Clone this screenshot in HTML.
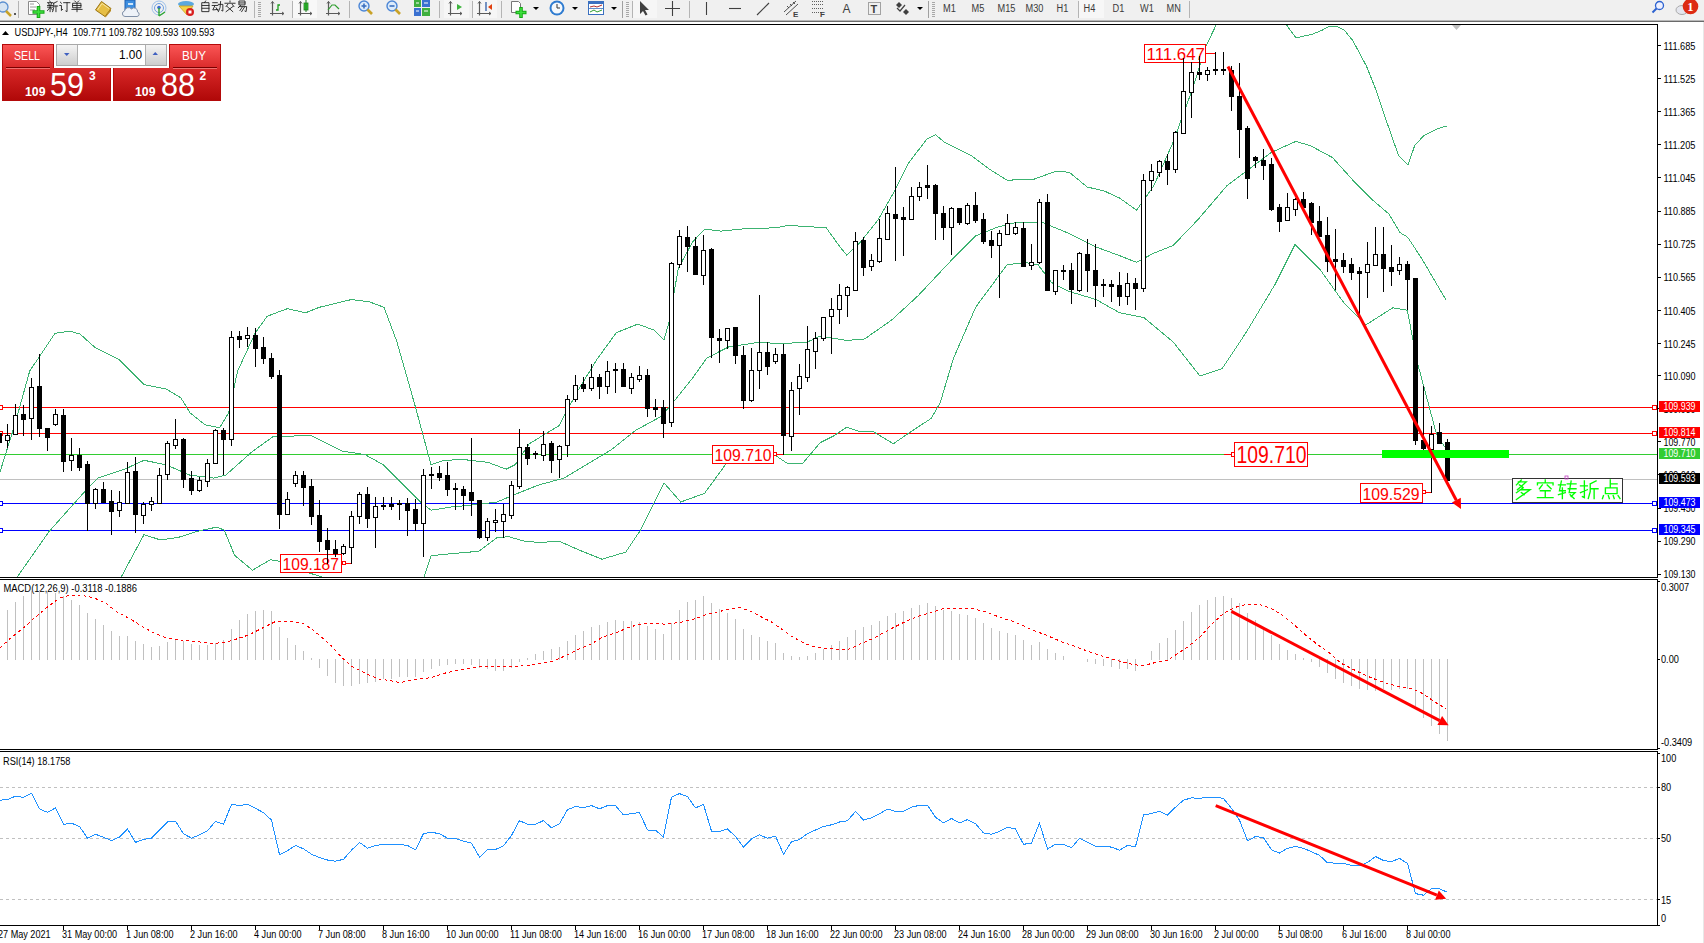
<!DOCTYPE html><html><head><meta charset="utf-8"><style>html,body{margin:0;padding:0;background:#fff;width:1704px;height:943px;overflow:hidden}</style></head><body><svg width="1704" height="943" viewBox="0 0 1704 943" style="display:block;font-family:'Liberation Sans', sans-serif"><rect x="0" y="0" width="1704" height="943" fill="#FFFFFF"/><rect x="0" y="0" width="1704" height="20" fill="#F0F0F0"/><rect x="0" y="20" width="1704" height="1" fill="#B8B8B8"/><rect x="0" y="21" width="1704" height="1" fill="#6A6A6A"/><rect x="1703" y="22" width="1" height="921" fill="#E8E8E8"/><circle cx="3" cy="7" r="5" fill="#D6E4F2" stroke="#5A8FD0" stroke-width="1.3"/><path d="M6 11L11 16" stroke="#C9A227" stroke-width="2.5"/><path d="M14 14h2M15 13v2" stroke="#000" stroke-width="0.8"/><rect x="18" y="1" width="1" height="17" fill="#B4B4B4"/><path d="M28.5 1.5h8l3 3v10h-11z" fill="#FFFFFF" stroke="#8A8A8A"/><path d="M30 4h4M30 7h6M30 10h5" stroke="#9A9A9A"/><path d="M32.5 12h12M38.5 6v12" stroke="#14A814" stroke-width="3.6"/><path d="M33.5 12h10M38.5 7v10" stroke="#3EE03E" stroke-width="1.6"/><path transform="translate(47.00,1) scale(0.5600)" d="M5 0L6 2M1 3H10M3 4L4 7M8 4L7 7M1 8H10M1 11H10M5.5 8V19M5 12L1 17M6 12L10 16M18 1L12 4M12 4V12L10 19M12 9H19M16 9V19" fill="none" stroke="#202020" stroke-width="1.61" stroke-linecap="square"/><path transform="translate(59.20,1) scale(0.5600)" d="M2 2L4 4M1 8H4V17L6 15M8 3H19M14 3V19L12 18" fill="none" stroke="#202020" stroke-width="1.61" stroke-linecap="square"/><path transform="translate(71.40,1) scale(0.5600)" d="M6 0L8 2M13 0L11 2M3 4H17V12H3ZM3 8H17M10 4V19M1 15H19" fill="none" stroke="#202020" stroke-width="1.61" stroke-linecap="square"/><path d="M95.5 10L101.5 1.5L111 8.5L105 16.5Z" fill="#E6BE45" stroke="#9A7413" stroke-width="1"/><path d="M97.5 10L102 3.5L109 8.5" fill="none" stroke="#F8E6A0" stroke-width="1"/><path d="M105 16.5L111 8.5V11L105.5 17.5Z" fill="#B88A20"/><rect x="125" y="0" width="10" height="10" fill="#3D8EE0" stroke="#1F5FAF"/><rect x="128" y="3" width="5" height="2" fill="#D0E6FA"/><path d="M125 16.5A2.8 2.8 0 0 1 124.5 11A4 4 0 0 1 131.5 9A3.5 3.5 0 0 1 137.5 12A2.3 2.3 0 0 1 137 16.5Z" fill="#EEF2F8" stroke="#8090A8" stroke-width="1"/><circle cx="159" cy="8" r="7" fill="none" stroke="#9EC1EA" stroke-width="1"/><circle cx="159" cy="8" r="4.5" fill="none" stroke="#6F9FE0" stroke-width="1"/><circle cx="159" cy="7.5" r="1.8" fill="#3C6FD0"/><path d="M159 8V16M159 16L165 12" stroke="#2EA82E" stroke-width="1.4" fill="none"/><ellipse cx="186" cy="4" rx="8" ry="3" fill="#5AA8E0"/><path d="M179 6H193L187 15Z" fill="#F3D34A" stroke="#C8A020" stroke-width="0.8"/><circle cx="190" cy="12" r="4" fill="#D81E1E"/><rect x="188.5" y="10.5" width="3" height="3" fill="#FFF"/><path transform="translate(200.00,1) scale(0.5600)" d="M10 0L8 3M4 3H16V19H4ZM4 8H16M4 13H16" fill="none" stroke="#202020" stroke-width="1.61" stroke-linecap="square"/><path transform="translate(212.20,1) scale(0.5600)" d="M1 3H9M0 8H10M5 8L1 16L10 15M7 12L10 17M11 6H19V18L17 17M15 1L14 12L11 19" fill="none" stroke="#202020" stroke-width="1.61" stroke-linecap="square"/><path transform="translate(224.40,1) scale(0.5600)" d="M10 0V2M1 4H19M6 6L3 10M14 6L17 10M5 10L15 19M15 10L3 19" fill="none" stroke="#202020" stroke-width="1.61" stroke-linecap="square"/><path transform="translate(236.60,1) scale(0.5600)" d="M5 0H15V7H5ZM5 3.5H15M7 8L3 12M5 10H18L17 19L15 18M10 11L6 17M14 11L9 19" fill="none" stroke="#202020" stroke-width="1.61" stroke-linecap="square"/><rect x="254" y="1" width="1" height="17" fill="#B4B4B4"/><rect x="258" y="2" width="3" height="1" fill="#A8A8A8"/><rect x="258" y="4" width="3" height="1" fill="#A8A8A8"/><rect x="258" y="6" width="3" height="1" fill="#A8A8A8"/><rect x="258" y="8" width="3" height="1" fill="#A8A8A8"/><rect x="258" y="10" width="3" height="1" fill="#A8A8A8"/><rect x="258" y="12" width="3" height="1" fill="#A8A8A8"/><rect x="258" y="14" width="3" height="1" fill="#A8A8A8"/><rect x="258" y="16" width="3" height="1" fill="#A8A8A8"/><path d="M272.5 1.5V15.5M270 13.5H284" stroke="#5A5A5A" stroke-width="1.2" fill="none"/><path d="M271 3.5L272.5 1.5L274 3.5M282 12L284 13.5L282 15" stroke="#5A5A5A" stroke-width="1" fill="none"/><path d="M276 10h2V5h2" stroke="#1E9E1E" stroke-width="1.3" fill="none"/><rect x="292" y="1" width="1" height="17" fill="#B4B4B4"/><rect x="293" y="0" width="24" height="18" fill="#F8F8F8"/><path d="M300.5 1.5V15.5M298 13.5H312" stroke="#5A5A5A" stroke-width="1.2" fill="none"/><path d="M299 3.5L300.5 1.5L302 3.5M310 12L312 13.5L310 15" stroke="#5A5A5A" stroke-width="1" fill="none"/><rect x="304" y="3" width="4" height="7" fill="#33CC33" stroke="#1E7E1E" stroke-width="0.8"/><path d="M306 0V12" stroke="#1E7E1E"/><path d="M328.5 1.5V15.5M326 13.5H340" stroke="#5A5A5A" stroke-width="1.2" fill="none"/><path d="M327 3.5L328.5 1.5L330 3.5M338 12L340 13.5L338 15" stroke="#5A5A5A" stroke-width="1" fill="none"/><path d="M328 10L332 5L335 5L339 9" stroke="#2E9E2E" stroke-width="1.2" fill="none"/><rect x="349" y="1" width="1" height="17" fill="#B4B4B4"/><circle cx="364" cy="6" r="5" fill="#DCEBFA" stroke="#4C86D6" stroke-width="1.4"/><path d="M367.5 9.5L372 14" stroke="#C9A227" stroke-width="2.6"/><path d="M361.5 6h5" stroke="#3A70C0" stroke-width="1.6"/><path d="M364 3.5v5" stroke="#3A70C0" stroke-width="1.6"/><circle cx="392" cy="6" r="5" fill="#DCEBFA" stroke="#4C86D6" stroke-width="1.4"/><path d="M395.5 9.5L400 14" stroke="#C9A227" stroke-width="2.6"/><path d="M389.5 6h5" stroke="#3A70C0" stroke-width="1.6"/><rect x="414" y="0" width="7" height="7" fill="#3FAF3F"/><rect x="422" y="0" width="8" height="7" fill="#3A70D0"/><rect x="414" y="8" width="7" height="8" fill="#3A70D0"/><rect x="422" y="8" width="8" height="8" fill="#3FAF3F"/><path d="M416 3h3M424 3h4M416 11h3M424 11h4" stroke="#FFF" stroke-width="1"/><rect x="439" y="1" width="1" height="17" fill="#B4B4B4"/><rect x="444" y="0" width="25" height="18" fill="#F6F6F6"/><path d="M450.5 1.5V15.5M448 13.5H462" stroke="#5A5A5A" stroke-width="1.2" fill="none"/><path d="M449 3.5L450.5 1.5L452 3.5M460 12L462 13.5L460 15" stroke="#5A5A5A" stroke-width="1" fill="none"/><path d="M457 4L462 7L457 10Z" fill="#3CB43C"/><rect x="472" y="1" width="1" height="17" fill="#B4B4B4"/><rect x="473" y="0" width="24" height="18" fill="#F6F6F6"/><path d="M479.5 1.5V15.5M477 13.5H491" stroke="#5A5A5A" stroke-width="1.2" fill="none"/><path d="M478 3.5L479.5 1.5L481 3.5M489 12L491 13.5L489 15" stroke="#5A5A5A" stroke-width="1" fill="none"/><path d="M486 2V11" stroke="#2050A0" stroke-width="1.2"/><path d="M488 7L492 4V10Z" fill="#E04010"/><rect x="501" y="1" width="1" height="17" fill="#B4B4B4"/><path d="M511.5 1.5h7l2 2v9h-9z" fill="#FFF" stroke="#777"/><path d="M515.5 12.5h11M521 7v11" stroke="#14A814" stroke-width="3.6"/><path d="M516.5 12.5h9M521 8v9" stroke="#3EE03E" stroke-width="1.6"/><path d="M533 7h6l-3 3z" fill="#000"/><circle cx="557" cy="8" r="7.5" fill="#2E7BD0"/><circle cx="557" cy="8" r="5.5" fill="#F4F8FC"/><path d="M557 4V8H560" stroke="#333" stroke-width="1" fill="none"/><path d="M572 7h6l-3 3z" fill="#000"/><rect x="588.5" y="1.5" width="15" height="13" fill="#FFF" stroke="#3A70C0"/><rect x="589" y="2" width="14" height="2" fill="#3A70C0"/><path d="M590 7L594 6L597 7L602 5" stroke="#B03030" fill="none"/><path d="M590 12L594 10L597 12L602 10" stroke="#2E9E2E" fill="none"/><path d="M589 8.5H603" stroke="#3A70C0" stroke-width="0.8"/><path d="M611 7h6l-3 3z" fill="#000"/><rect x="622" y="1" width="1" height="17" fill="#A0A0A0"/><rect x="626" y="2" width="3" height="1" fill="#A8A8A8"/><rect x="626" y="4" width="3" height="1" fill="#A8A8A8"/><rect x="626" y="6" width="3" height="1" fill="#A8A8A8"/><rect x="626" y="8" width="3" height="1" fill="#A8A8A8"/><rect x="626" y="10" width="3" height="1" fill="#A8A8A8"/><rect x="626" y="12" width="3" height="1" fill="#A8A8A8"/><rect x="626" y="14" width="3" height="1" fill="#A8A8A8"/><rect x="626" y="16" width="3" height="1" fill="#A8A8A8"/><rect x="632" y="1" width="1" height="17" fill="#B4B4B4"/><rect x="633" y="0" width="24" height="18" fill="#F6F6F6"/><path d="M640 1V14L643 11L645.5 15.5L647.5 14.5L645 10H649Z" fill="#404040"/><path d="M665 8.5H680M672.5 1V16" stroke="#404040" stroke-width="1.1"/><rect x="689" y="1" width="1" height="17" fill="#B4B4B4"/><path d="M706.5 2V15" stroke="#404040" stroke-width="1.1"/><path d="M729 8.5H741" stroke="#404040" stroke-width="1.1"/><path d="M757 15L769 3" stroke="#404040" stroke-width="1.1"/><path d="M784 12L796 1M786 15L798 4M787 6L789 8M790 4L792 6M793 2L795 4" stroke="#404040" stroke-width="0.9"/><text x="793" y="17" font-size="8" font-weight="bold" fill="#404040">E</text><path d="M812 1.5H823M812 4.5H823M812 8.5H823M812 12.5H822" stroke="#606060" stroke-dasharray="1,1"/><text x="820" y="17" font-size="8" font-weight="bold" fill="#404040">F</text><text x="842.5" y="12.5" font-size="12" fill="#404040">A</text><rect x="868.5" y="2.5" width="12" height="12" fill="none" stroke="#555" stroke-dasharray="1,1"/><text x="870.5" y="12.5" font-size="11" font-weight="bold" fill="#404040">T</text><path d="M899 2L902 5L899 8L896 5Z" fill="#404040"/><path d="M906 9L909 12L906 15L903 12Z" fill="#404040"/><path d="M897 8L900 11L905 5" stroke="#404040" fill="none" stroke-width="1.2"/><path d="M917 7h6l-3 3z" fill="#000"/><rect x="928" y="1" width="1" height="17" fill="#A0A0A0"/><rect x="932" y="2" width="3" height="1" fill="#A8A8A8"/><rect x="932" y="4" width="3" height="1" fill="#A8A8A8"/><rect x="932" y="6" width="3" height="1" fill="#A8A8A8"/><rect x="932" y="8" width="3" height="1" fill="#A8A8A8"/><rect x="932" y="10" width="3" height="1" fill="#A8A8A8"/><rect x="932" y="12" width="3" height="1" fill="#A8A8A8"/><rect x="932" y="14" width="3" height="1" fill="#A8A8A8"/><rect x="932" y="16" width="3" height="1" fill="#A8A8A8"/><text x="943" y="12" font-size="10" fill="#3A3A3A" textLength="12.8" lengthAdjust="spacingAndGlyphs" xml:space="preserve" >M1</text><text x="971.5" y="12" font-size="10" fill="#3A3A3A" textLength="12.8" lengthAdjust="spacingAndGlyphs" xml:space="preserve" >M5</text><text x="997.5" y="12" font-size="10" fill="#3A3A3A" textLength="17.9" lengthAdjust="spacingAndGlyphs" xml:space="preserve" >M15</text><text x="1025.5" y="12" font-size="10" fill="#3A3A3A" textLength="17.9" lengthAdjust="spacingAndGlyphs" xml:space="preserve" >M30</text><text x="1056.5" y="12" font-size="10" fill="#3A3A3A" textLength="11.8" lengthAdjust="spacingAndGlyphs" xml:space="preserve" >H1</text><rect x="1079" y="0" width="25" height="18" fill="#F7F7F7"/><text x="1083.5" y="12" font-size="10" fill="#3A3A3A" textLength="11.8" lengthAdjust="spacingAndGlyphs" xml:space="preserve" >H4</text><text x="1112.5" y="12" font-size="10" fill="#3A3A3A" textLength="11.8" lengthAdjust="spacingAndGlyphs" xml:space="preserve" >D1</text><text x="1140" y="12" font-size="10" fill="#3A3A3A" textLength="13.8" lengthAdjust="spacingAndGlyphs" xml:space="preserve" >W1</text><text x="1166.5" y="12" font-size="10" fill="#3A3A3A" textLength="14.3" lengthAdjust="spacingAndGlyphs" xml:space="preserve" >MN</text><rect x="1078" y="1" width="1" height="17" fill="#B4B4B4"/><rect x="1189" y="1" width="1" height="17" fill="#B4B4B4"/><circle cx="1659.5" cy="5.5" r="4" fill="#EEF0FF" stroke="#2C62D0" stroke-width="1.3"/><path d="M1656.5 8.5L1652.5 12.5" stroke="#2C62D0" stroke-width="2"/><ellipse cx="1682" cy="10" rx="6" ry="4.5" fill="#E4E6EE" stroke="#AAAAAA"/><circle cx="1690.5" cy="6.5" r="7.8" fill="#DD2A12"/><text x="1687.2" y="11" font-size="12.5" font-weight="bold" font-family="Liberation Serif" fill="#FFF">1</text><g shape-rendering="crispEdges"><rect x="0" y="24" width="1658" height="1" fill="#000"/><rect x="0" y="577" width="1658" height="1" fill="#000"/><rect x="0" y="579" width="1658" height="1" fill="#000"/><rect x="0" y="749" width="1658" height="1" fill="#000"/><rect x="0" y="751" width="1658" height="1" fill="#000"/><rect x="0" y="925" width="1658" height="1" fill="#000"/><rect x="1657" y="24" width="1" height="554" fill="#000"/><rect x="1657" y="579" width="1" height="171" fill="#000"/><rect x="1657" y="751" width="1" height="175" fill="#000"/></g><defs><clipPath id="cm"><rect x="0" y="25" width="1657" height="552"/></clipPath><clipPath id="cmacd"><rect x="0" y="580" width="1657" height="169"/></clipPath><clipPath id="crsi"><rect x="0" y="752" width="1657" height="173"/></clipPath></defs><g clip-path="url(#cm)"><g shape-rendering="crispEdges"><rect x="0" y="407" width="1657" height="1" fill="#FF0000"/><rect x="0" y="433" width="1657" height="1" fill="#FF0000"/><rect x="0" y="454" width="1657" height="1" fill="#32CD32"/><rect x="0" y="479" width="1657" height="1" fill="#C0C0C0"/><rect x="0" y="503" width="1657" height="1" fill="#0000FF"/><rect x="0" y="530" width="1657" height="1" fill="#0000FF"/><rect x="-1.5" y="405.5" width="4" height="4" fill="#FFF" stroke="#FF0000"/><rect x="1652.5" y="405.5" width="4" height="4" fill="#FFF" stroke="#FF0000"/><rect x="-1.5" y="431.5" width="4" height="4" fill="#FFF" stroke="#FF0000"/><rect x="1652.5" y="431.5" width="4" height="4" fill="#FFF" stroke="#FF0000"/><rect x="-1.5" y="501.5" width="4" height="4" fill="#FFF" stroke="#0000FF"/><rect x="1652.5" y="501.5" width="4" height="4" fill="#FFF" stroke="#0000FF"/><rect x="-1.5" y="528.5" width="4" height="4" fill="#FFF" stroke="#0000FF"/><rect x="1652.5" y="528.5" width="4" height="4" fill="#FFF" stroke="#0000FF"/></g><polyline points="0.0,472.0 14.8,424.7 29.7,371.0 41.6,353.4 55.0,333.3 69.8,331.2 80.0,334.0 95.0,347.5 118.8,359.4 130.6,371.3 144.0,384.6 166.3,389.0 181.0,398.0 190.0,412.8 204.9,424.7 219.7,427.7 228.6,412.8 237.5,371.3 255.3,332.7 267.2,316.3 280.0,311.3 287.4,308.7 305.6,312.8 319.3,307.3 351.2,299.6 369.4,301.8 384.0,307.3 396.8,341.5 415.0,405.4 431.0,464.6 442.4,461.0 460.6,459.2 488.0,462.4 506.2,469.2 515.4,464.6 529.0,444.0 547.3,432.7 559.0,425.7 578.2,390.0 597.2,359.0 616.3,332.7 637.8,324.1 654.5,330.3 664.0,339.9 668.8,323.2 678.3,268.3 692.6,242.0 704.5,229.2 721.2,231.1 745.1,228.7 776.1,227.8 788.0,225.4 826.2,227.8 840.0,246.9 846.7,255.0 860.0,242.5 877.9,220.2 895.7,189.0 909.0,162.4 926.8,139.2 935.7,134.8 944.6,142.3 971.3,155.7 989.1,169.0 1007.0,180.2 1033.6,179.3 1055.9,171.3 1069.3,172.2 1087.0,186.9 1104.9,191.3 1119.5,198.0 1136.6,210.2 1153.7,185.9 1173.2,142.0 1192.7,88.3 1205.9,46.3 1216.1,25.1 1230.0,-5.0 1270.0,-5.0 1286.6,25.1 1295.9,37.8 1312.0,34.4 1322.2,30.2 1329.0,26.4 1335.8,26.0 1344.3,30.2 1352.7,40.4 1366.3,65.8 1376.5,91.3 1386.7,121.8 1398.6,155.8 1407.9,165.1 1414.7,145.6 1424.0,135.4 1437.6,128.6 1447.0,126.0" fill="none" stroke="#3CB371" stroke-width="1" shape-rendering="crispEdges"/><polyline points="10.0,590.0 17.8,576.1 49.0,531.6 86.1,490.0 98.0,478.1 124.7,469.2 144.0,460.3 166.3,464.8 190.0,475.2 213.8,478.1 225.7,475.2 252.4,451.4 273.2,436.6 287.4,436.4 310.2,435.0 342.0,451.0 364.9,454.6 383.0,464.6 401.4,482.9 421.9,503.4 431.0,510.2 451.5,507.0 474.3,504.8 497.0,502.0 515.4,494.3 538.0,485.2 563.8,478.2 587.7,463.9 611.5,449.6 635.4,430.5 661.6,416.2 673.5,401.9 692.6,378.0 706.9,358.0 728.4,347.0 759.4,342.2 778.5,343.7 807.1,342.2 820.0,336.0 846.7,340.4 864.5,339.0 891.2,320.4 917.9,295.9 953.5,258.0 975.8,235.8 998.0,226.9 1015.8,222.5 1042.5,222.5 1069.3,233.6 1096.0,247.0 1120.0,255.8 1136.6,262.4 1153.7,253.2 1173.2,245.4 1197.6,220.0 1226.8,185.9 1250.9,167.7 1271.3,152.4 1295.9,141.4 1310.3,145.6 1332.4,157.5 1352.7,180.0 1373.2,200.5 1389.0,214.0 1400.2,232.7 1407.7,237.2 1422.0,259.0 1446.3,300.5" fill="none" stroke="#3CB371" stroke-width="1" shape-rendering="crispEdges"/><polyline points="115.0,590.0 121.7,576.1 144.0,534.6 160.3,539.9 178.1,537.5 196.0,531.6 216.7,527.1 224.2,530.1 234.6,555.3 252.4,570.2 270.2,559.8 280.0,561.3 300.0,570.0 322.0,577.0 335.0,590.0" fill="none" stroke="#3CB371" stroke-width="1" shape-rendering="crispEdges"/><polyline points="418.0,590.0 424.2,576.4 431.0,555.8 451.5,553.6 478.9,551.3 497.0,537.6 508.5,536.7 524.5,541.2 540.0,542.5 559.0,541.1 578.2,549.7 602.0,559.2 625.8,552.1 640.2,530.6 664.0,482.9 680.7,502.0 704.5,493.4 726.0,463.9 773.7,454.3 788.0,463.9 802.3,463.9 820.0,442.8 833.4,436.1 846.7,427.2 860.0,431.7 873.4,431.7 893.4,443.7 909.0,433.0 931.3,418.3 940.2,402.7 953.5,358.2 975.8,307.0 1007.0,264.8 1024.7,262.5 1038.1,264.8 1051.4,282.5 1069.3,291.5 1096.0,299.5 1119.5,312.7 1143.9,317.6 1173.2,342.0 1200.0,376.1 1222.0,368.8 1246.3,332.2 1275.6,283.4 1295.1,244.4 1319.5,268.8 1343.9,302.9 1365.9,324.9 1392.7,307.8 1407.3,310.2 1417.1,361.5 1436.6,434.6 1446.3,449.3" fill="none" stroke="#3CB371" stroke-width="1" shape-rendering="crispEdges"/><rect x="1144.5" y="44.5" width="61" height="18" fill="#FFF" stroke="#FF0000"/><text x="1146.5" y="60.1" font-size="17" fill="#FF0000" textLength="58.5" lengthAdjust="spacingAndGlyphs">111.647</text><path d="M1206 53.5H1215" fill="none" stroke="#FF0000" stroke-width="1" shape-rendering="crispEdges"/><rect x="712.5" y="445.5" width="61" height="18" fill="#FFF" stroke="#FF0000"/><text x="714.5" y="461.1" font-size="17" fill="#FF0000" textLength="57" lengthAdjust="spacingAndGlyphs">109.710</text><path d="M776 454.5H783" fill="none" stroke="#FF0000" stroke-width="1" shape-rendering="crispEdges"/><rect x="773.5" y="452.5" width="3" height="3" fill="#FFF" stroke="#FF0000"/><rect x="280.5" y="554.5" width="61" height="18" fill="#FFF" stroke="#FF0000"/><text x="282.5" y="570.1" font-size="17" fill="#FF0000" textLength="56.5" lengthAdjust="spacingAndGlyphs">109.187</text><path d="M343 563.5H351" fill="none" stroke="#FF0000" stroke-width="1" shape-rendering="crispEdges"/><rect x="342.5" y="561.5" width="3" height="3" fill="#FFF" stroke="#FF0000"/><rect x="1360.5" y="483.5" width="62" height="19" fill="#FFF" stroke="#FF0000"/><text x="1362.5" y="499.6" font-size="17" fill="#FF0000" textLength="57" lengthAdjust="spacingAndGlyphs">109.529</text><path d="M1423 492.5H1431" fill="none" stroke="#FF0000" stroke-width="1" shape-rendering="crispEdges"/><rect x="1422.5" y="490.5" width="3" height="3" fill="#FFF" stroke="#FF0000"/><rect x="1234.5" y="442.5" width="73" height="24" fill="#FFF" stroke="#FF0000"/><text x="1236.5" y="463.3" font-size="23.5" fill="#FF0000" textLength="70" lengthAdjust="spacingAndGlyphs">109.710</text><path d="M1224 454.5H1231" fill="none" stroke="#FF0000" stroke-width="1" shape-rendering="crispEdges"/><rect x="1231.5" y="452.5" width="3" height="4" fill="#FFF" stroke="#FF0000"/><g shape-rendering="crispEdges"><rect x="-1" y="430" width="1" height="16" fill="#000"/><rect x="-3" y="433" width="5" height="10" fill="#000"/><rect x="7" y="424" width="1" height="24" fill="#000"/><rect x="5" y="435" width="5" height="6" fill="#000"/><rect x="6" y="436" width="3" height="4" fill="#FFF"/><rect x="15" y="404" width="1" height="31" fill="#000"/><rect x="13" y="415" width="5" height="20" fill="#000"/><rect x="14" y="416" width="3" height="18" fill="#FFF"/><rect x="23" y="405" width="1" height="31" fill="#000"/><rect x="21" y="414" width="5" height="6" fill="#000"/><rect x="31" y="378" width="1" height="62" fill="#000"/><rect x="29" y="387" width="5" height="32" fill="#000"/><rect x="30" y="388" width="3" height="30" fill="#FFF"/><rect x="39" y="354" width="1" height="83" fill="#000"/><rect x="37" y="386" width="5" height="43" fill="#000"/><rect x="47" y="428" width="1" height="23" fill="#000"/><rect x="45" y="428" width="5" height="10" fill="#000"/><rect x="55" y="409" width="1" height="17" fill="#000"/><rect x="53" y="414" width="5" height="11" fill="#000"/><rect x="54" y="415" width="3" height="9" fill="#FFF"/><rect x="63" y="409" width="1" height="63" fill="#000"/><rect x="61" y="415" width="5" height="47" fill="#000"/><rect x="71" y="438" width="1" height="33" fill="#000"/><rect x="69" y="455" width="5" height="6" fill="#000"/><rect x="70" y="456" width="3" height="4" fill="#FFF"/><rect x="79" y="448" width="1" height="23" fill="#000"/><rect x="77" y="455" width="5" height="13" fill="#000"/><rect x="87" y="461" width="1" height="70" fill="#000"/><rect x="85" y="464" width="5" height="40" fill="#000"/><rect x="95" y="488" width="1" height="21" fill="#000"/><rect x="93" y="489" width="5" height="15" fill="#000"/><rect x="94" y="490" width="3" height="13" fill="#FFF"/><rect x="103" y="482" width="1" height="21" fill="#000"/><rect x="101" y="489" width="5" height="14" fill="#000"/><rect x="111" y="490" width="1" height="45" fill="#000"/><rect x="109" y="501" width="5" height="11" fill="#000"/><rect x="119" y="491" width="1" height="26" fill="#000"/><rect x="117" y="502" width="5" height="9" fill="#000"/><rect x="118" y="503" width="3" height="7" fill="#FFF"/><rect x="127" y="462" width="1" height="42" fill="#000"/><rect x="125" y="472" width="5" height="32" fill="#000"/><rect x="126" y="473" width="3" height="30" fill="#FFF"/><rect x="135" y="457" width="1" height="76" fill="#000"/><rect x="133" y="471" width="5" height="44" fill="#000"/><rect x="143" y="502" width="1" height="22" fill="#000"/><rect x="141" y="504" width="5" height="12" fill="#000"/><rect x="142" y="505" width="3" height="10" fill="#FFF"/><rect x="151" y="497" width="1" height="14" fill="#000"/><rect x="149" y="501" width="5" height="4" fill="#000"/><rect x="150" y="502" width="3" height="2" fill="#FFF"/><rect x="159" y="468" width="1" height="36" fill="#000"/><rect x="157" y="475" width="5" height="29" fill="#000"/><rect x="158" y="476" width="3" height="27" fill="#FFF"/><rect x="167" y="441" width="1" height="39" fill="#000"/><rect x="165" y="443" width="5" height="32" fill="#000"/><rect x="166" y="444" width="3" height="30" fill="#FFF"/><rect x="175" y="419" width="1" height="30" fill="#000"/><rect x="173" y="439" width="5" height="7" fill="#000"/><rect x="174" y="440" width="3" height="5" fill="#FFF"/><rect x="183" y="438" width="1" height="50" fill="#000"/><rect x="181" y="439" width="5" height="41" fill="#000"/><rect x="191" y="471" width="1" height="24" fill="#000"/><rect x="189" y="478" width="5" height="13" fill="#000"/><rect x="199" y="477" width="1" height="15" fill="#000"/><rect x="197" y="480" width="5" height="11" fill="#000"/><rect x="198" y="481" width="3" height="9" fill="#FFF"/><rect x="207" y="459" width="1" height="28" fill="#000"/><rect x="205" y="463" width="5" height="19" fill="#000"/><rect x="206" y="464" width="3" height="17" fill="#FFF"/><rect x="215" y="429" width="1" height="35" fill="#000"/><rect x="213" y="430" width="5" height="34" fill="#000"/><rect x="214" y="431" width="3" height="32" fill="#FFF"/><rect x="223" y="428" width="1" height="47" fill="#000"/><rect x="221" y="430" width="5" height="10" fill="#000"/><rect x="231" y="331" width="1" height="115" fill="#000"/><rect x="229" y="337" width="5" height="103" fill="#000"/><rect x="230" y="338" width="3" height="101" fill="#FFF"/><rect x="239" y="331" width="1" height="17" fill="#000"/><rect x="237" y="336" width="5" height="4" fill="#000"/><rect x="247" y="327" width="1" height="20" fill="#000"/><rect x="245" y="335" width="5" height="4" fill="#000"/><rect x="246" y="336" width="3" height="2" fill="#FFF"/><rect x="255" y="328" width="1" height="39" fill="#000"/><rect x="253" y="335" width="5" height="14" fill="#000"/><rect x="263" y="337" width="1" height="27" fill="#000"/><rect x="261" y="347" width="5" height="12" fill="#000"/><rect x="271" y="353" width="1" height="26" fill="#000"/><rect x="269" y="358" width="5" height="19" fill="#000"/><rect x="279" y="370" width="1" height="159" fill="#000"/><rect x="277" y="375" width="5" height="140" fill="#000"/><rect x="287" y="492" width="1" height="23" fill="#000"/><rect x="285" y="499" width="5" height="16" fill="#000"/><rect x="286" y="500" width="3" height="14" fill="#FFF"/><rect x="295" y="471" width="1" height="16" fill="#000"/><rect x="293" y="475" width="5" height="9" fill="#000"/><rect x="294" y="476" width="3" height="7" fill="#FFF"/><rect x="303" y="471" width="1" height="35" fill="#000"/><rect x="301" y="475" width="5" height="13" fill="#000"/><rect x="311" y="479" width="1" height="46" fill="#000"/><rect x="309" y="486" width="5" height="31" fill="#000"/><rect x="319" y="500" width="1" height="52" fill="#000"/><rect x="317" y="515" width="5" height="27" fill="#000"/><rect x="327" y="528" width="1" height="36" fill="#000"/><rect x="325" y="540" width="5" height="10" fill="#000"/><rect x="335" y="540" width="1" height="17" fill="#000"/><rect x="333" y="549" width="5" height="5" fill="#000"/><rect x="343" y="544" width="1" height="11" fill="#000"/><rect x="341" y="546" width="5" height="8" fill="#000"/><rect x="342" y="547" width="3" height="6" fill="#FFF"/><rect x="351" y="511" width="1" height="53" fill="#000"/><rect x="349" y="516" width="5" height="32" fill="#000"/><rect x="350" y="517" width="3" height="30" fill="#FFF"/><rect x="359" y="492" width="1" height="32" fill="#000"/><rect x="357" y="494" width="5" height="23" fill="#000"/><rect x="358" y="495" width="3" height="21" fill="#FFF"/><rect x="367" y="487" width="1" height="41" fill="#000"/><rect x="365" y="494" width="5" height="25" fill="#000"/><rect x="375" y="497" width="1" height="51" fill="#000"/><rect x="373" y="506" width="5" height="12" fill="#000"/><rect x="374" y="507" width="3" height="10" fill="#FFF"/><rect x="383" y="497" width="1" height="13" fill="#000"/><rect x="381" y="505" width="5" height="2" fill="#000"/><rect x="391" y="497" width="1" height="13" fill="#000"/><rect x="389" y="504" width="5" height="3" fill="#000"/><rect x="399" y="500" width="1" height="20" fill="#000"/><rect x="397" y="503" width="5" height="2" fill="#000"/><rect x="407" y="498" width="1" height="38" fill="#000"/><rect x="405" y="503" width="5" height="8" fill="#000"/><rect x="415" y="499" width="1" height="32" fill="#000"/><rect x="413" y="509" width="5" height="15" fill="#000"/><rect x="423" y="469" width="1" height="88" fill="#000"/><rect x="421" y="475" width="5" height="49" fill="#000"/><rect x="422" y="476" width="3" height="47" fill="#FFF"/><rect x="431" y="467" width="1" height="22" fill="#000"/><rect x="429" y="474" width="5" height="2" fill="#000"/><rect x="439" y="466" width="1" height="15" fill="#000"/><rect x="437" y="473" width="5" height="5" fill="#000"/><rect x="447" y="462" width="1" height="34" fill="#000"/><rect x="445" y="475" width="5" height="15" fill="#000"/><rect x="455" y="483" width="1" height="27" fill="#000"/><rect x="453" y="488" width="5" height="2" fill="#000"/><rect x="463" y="486" width="1" height="24" fill="#000"/><rect x="461" y="489" width="5" height="7" fill="#000"/><rect x="471" y="438" width="1" height="78" fill="#000"/><rect x="469" y="492" width="5" height="9" fill="#000"/><rect x="479" y="500" width="1" height="39" fill="#000"/><rect x="477" y="500" width="5" height="38" fill="#000"/><rect x="487" y="518" width="1" height="23" fill="#000"/><rect x="485" y="521" width="5" height="17" fill="#000"/><rect x="486" y="522" width="3" height="15" fill="#FFF"/><rect x="495" y="509" width="1" height="23" fill="#000"/><rect x="493" y="520" width="5" height="3" fill="#000"/><rect x="494" y="521" width="3" height="1" fill="#FFF"/><rect x="503" y="504" width="1" height="34" fill="#000"/><rect x="501" y="514" width="5" height="8" fill="#000"/><rect x="502" y="515" width="3" height="6" fill="#FFF"/><rect x="511" y="481" width="1" height="38" fill="#000"/><rect x="509" y="485" width="5" height="31" fill="#000"/><rect x="510" y="486" width="3" height="29" fill="#FFF"/><rect x="519" y="429" width="1" height="60" fill="#000"/><rect x="517" y="447" width="5" height="40" fill="#000"/><rect x="518" y="448" width="3" height="38" fill="#FFF"/><rect x="527" y="444" width="1" height="21" fill="#000"/><rect x="525" y="447" width="5" height="12" fill="#000"/><rect x="535" y="451" width="1" height="8" fill="#000"/><rect x="533" y="453" width="5" height="2" fill="#000"/><rect x="543" y="431" width="1" height="30" fill="#000"/><rect x="541" y="444" width="5" height="12" fill="#000"/><rect x="542" y="445" width="3" height="10" fill="#FFF"/><rect x="551" y="441" width="1" height="32" fill="#000"/><rect x="549" y="443" width="5" height="18" fill="#000"/><rect x="559" y="445" width="1" height="33" fill="#000"/><rect x="557" y="446" width="5" height="14" fill="#000"/><rect x="558" y="447" width="3" height="12" fill="#FFF"/><rect x="567" y="395" width="1" height="62" fill="#000"/><rect x="565" y="399" width="5" height="47" fill="#000"/><rect x="566" y="400" width="3" height="45" fill="#FFF"/><rect x="575" y="375" width="1" height="27" fill="#000"/><rect x="573" y="385" width="5" height="15" fill="#000"/><rect x="574" y="386" width="3" height="13" fill="#FFF"/><rect x="583" y="377" width="1" height="15" fill="#000"/><rect x="581" y="384" width="5" height="5" fill="#000"/><rect x="591" y="364" width="1" height="27" fill="#000"/><rect x="589" y="377" width="5" height="12" fill="#000"/><rect x="590" y="378" width="3" height="10" fill="#FFF"/><rect x="599" y="374" width="1" height="25" fill="#000"/><rect x="597" y="377" width="5" height="10" fill="#000"/><rect x="607" y="361" width="1" height="33" fill="#000"/><rect x="605" y="371" width="5" height="16" fill="#000"/><rect x="606" y="372" width="3" height="14" fill="#FFF"/><rect x="615" y="363" width="1" height="30" fill="#000"/><rect x="613" y="369" width="5" height="2" fill="#000"/><rect x="623" y="363" width="1" height="24" fill="#000"/><rect x="621" y="369" width="5" height="18" fill="#000"/><rect x="631" y="373" width="1" height="21" fill="#000"/><rect x="629" y="377" width="5" height="12" fill="#000"/><rect x="630" y="378" width="3" height="10" fill="#FFF"/><rect x="639" y="366" width="1" height="16" fill="#000"/><rect x="637" y="375" width="5" height="5" fill="#000"/><rect x="638" y="376" width="3" height="3" fill="#FFF"/><rect x="647" y="369" width="1" height="48" fill="#000"/><rect x="645" y="375" width="5" height="34" fill="#000"/><rect x="655" y="399" width="1" height="18" fill="#000"/><rect x="653" y="407" width="5" height="3" fill="#000"/><rect x="663" y="400" width="1" height="38" fill="#000"/><rect x="661" y="407" width="5" height="17" fill="#000"/><rect x="671" y="262" width="1" height="165" fill="#000"/><rect x="669" y="263" width="5" height="160" fill="#000"/><rect x="670" y="264" width="3" height="158" fill="#FFF"/><rect x="679" y="230" width="1" height="38" fill="#000"/><rect x="677" y="236" width="5" height="29" fill="#000"/><rect x="678" y="237" width="3" height="27" fill="#FFF"/><rect x="687" y="226" width="1" height="46" fill="#000"/><rect x="685" y="237" width="5" height="10" fill="#000"/><rect x="695" y="237" width="1" height="38" fill="#000"/><rect x="693" y="246" width="5" height="29" fill="#000"/><rect x="703" y="235" width="1" height="50" fill="#000"/><rect x="701" y="250" width="5" height="26" fill="#000"/><rect x="702" y="251" width="3" height="24" fill="#FFF"/><rect x="711" y="248" width="1" height="110" fill="#000"/><rect x="709" y="249" width="5" height="89" fill="#000"/><rect x="719" y="329" width="1" height="34" fill="#000"/><rect x="717" y="338" width="5" height="3" fill="#000"/><rect x="727" y="328" width="1" height="21" fill="#000"/><rect x="725" y="328" width="5" height="13" fill="#000"/><rect x="726" y="329" width="3" height="11" fill="#FFF"/><rect x="735" y="327" width="1" height="37" fill="#000"/><rect x="733" y="327" width="5" height="29" fill="#000"/><rect x="743" y="346" width="1" height="63" fill="#000"/><rect x="741" y="355" width="5" height="46" fill="#000"/><rect x="751" y="348" width="1" height="54" fill="#000"/><rect x="749" y="370" width="5" height="31" fill="#000"/><rect x="750" y="371" width="3" height="29" fill="#FFF"/><rect x="759" y="295" width="1" height="94" fill="#000"/><rect x="757" y="352" width="5" height="19" fill="#000"/><rect x="758" y="353" width="3" height="17" fill="#FFF"/><rect x="767" y="342" width="1" height="33" fill="#000"/><rect x="765" y="352" width="5" height="15" fill="#000"/><rect x="775" y="348" width="1" height="16" fill="#000"/><rect x="773" y="354" width="5" height="8" fill="#000"/><rect x="774" y="355" width="3" height="6" fill="#FFF"/><rect x="783" y="344" width="1" height="111" fill="#000"/><rect x="781" y="354" width="5" height="82" fill="#000"/><rect x="791" y="382" width="1" height="69" fill="#000"/><rect x="789" y="390" width="5" height="47" fill="#000"/><rect x="790" y="391" width="3" height="45" fill="#FFF"/><rect x="799" y="364" width="1" height="51" fill="#000"/><rect x="797" y="376" width="5" height="13" fill="#000"/><rect x="798" y="377" width="3" height="11" fill="#FFF"/><rect x="807" y="326" width="1" height="56" fill="#000"/><rect x="805" y="349" width="5" height="29" fill="#000"/><rect x="806" y="350" width="3" height="27" fill="#FFF"/><rect x="815" y="332" width="1" height="37" fill="#000"/><rect x="813" y="338" width="5" height="14" fill="#000"/><rect x="814" y="339" width="3" height="12" fill="#FFF"/><rect x="823" y="317" width="1" height="24" fill="#000"/><rect x="821" y="317" width="5" height="22" fill="#000"/><rect x="822" y="318" width="3" height="20" fill="#FFF"/><rect x="831" y="298" width="1" height="56" fill="#000"/><rect x="829" y="309" width="5" height="8" fill="#000"/><rect x="830" y="310" width="3" height="6" fill="#FFF"/><rect x="839" y="284" width="1" height="40" fill="#000"/><rect x="837" y="295" width="5" height="15" fill="#000"/><rect x="838" y="296" width="3" height="13" fill="#FFF"/><rect x="847" y="286" width="1" height="31" fill="#000"/><rect x="845" y="287" width="5" height="9" fill="#000"/><rect x="846" y="288" width="3" height="7" fill="#FFF"/><rect x="855" y="232" width="1" height="59" fill="#000"/><rect x="853" y="241" width="5" height="50" fill="#000"/><rect x="854" y="242" width="3" height="48" fill="#FFF"/><rect x="863" y="237" width="1" height="39" fill="#000"/><rect x="861" y="240" width="5" height="28" fill="#000"/><rect x="871" y="254" width="1" height="17" fill="#000"/><rect x="869" y="260" width="5" height="7" fill="#000"/><rect x="870" y="261" width="3" height="5" fill="#FFF"/><rect x="879" y="219" width="1" height="44" fill="#000"/><rect x="877" y="238" width="5" height="24" fill="#000"/><rect x="878" y="239" width="3" height="22" fill="#FFF"/><rect x="887" y="206" width="1" height="34" fill="#000"/><rect x="885" y="213" width="5" height="27" fill="#000"/><rect x="886" y="214" width="3" height="25" fill="#FFF"/><rect x="895" y="167" width="1" height="94" fill="#000"/><rect x="893" y="214" width="5" height="5" fill="#000"/><rect x="903" y="207" width="1" height="49" fill="#000"/><rect x="901" y="217" width="5" height="3" fill="#000"/><rect x="911" y="187" width="1" height="33" fill="#000"/><rect x="909" y="196" width="5" height="24" fill="#000"/><rect x="910" y="197" width="3" height="22" fill="#FFF"/><rect x="919" y="182" width="1" height="19" fill="#000"/><rect x="917" y="187" width="5" height="10" fill="#000"/><rect x="918" y="188" width="3" height="8" fill="#FFF"/><rect x="927" y="165" width="1" height="34" fill="#000"/><rect x="925" y="185" width="5" height="3" fill="#000"/><rect x="935" y="184" width="1" height="56" fill="#000"/><rect x="933" y="185" width="5" height="29" fill="#000"/><rect x="943" y="206" width="1" height="34" fill="#000"/><rect x="941" y="213" width="5" height="15" fill="#000"/><rect x="951" y="207" width="1" height="48" fill="#000"/><rect x="949" y="208" width="5" height="20" fill="#000"/><rect x="950" y="209" width="3" height="18" fill="#FFF"/><rect x="959" y="208" width="1" height="17" fill="#000"/><rect x="957" y="208" width="5" height="15" fill="#000"/><rect x="967" y="203" width="1" height="22" fill="#000"/><rect x="965" y="205" width="5" height="19" fill="#000"/><rect x="966" y="206" width="3" height="17" fill="#FFF"/><rect x="975" y="192" width="1" height="31" fill="#000"/><rect x="973" y="205" width="5" height="16" fill="#000"/><rect x="983" y="213" width="1" height="31" fill="#000"/><rect x="981" y="219" width="5" height="23" fill="#000"/><rect x="991" y="231" width="1" height="27" fill="#000"/><rect x="989" y="240" width="5" height="6" fill="#000"/><rect x="999" y="230" width="1" height="68" fill="#000"/><rect x="997" y="233" width="5" height="13" fill="#000"/><rect x="998" y="234" width="3" height="11" fill="#FFF"/><rect x="1007" y="214" width="1" height="21" fill="#000"/><rect x="1005" y="223" width="5" height="12" fill="#000"/><rect x="1006" y="224" width="3" height="10" fill="#FFF"/><rect x="1015" y="222" width="1" height="13" fill="#000"/><rect x="1013" y="227" width="5" height="7" fill="#000"/><rect x="1014" y="228" width="3" height="5" fill="#FFF"/><rect x="1023" y="222" width="1" height="45" fill="#000"/><rect x="1021" y="228" width="5" height="39" fill="#000"/><rect x="1031" y="244" width="1" height="26" fill="#000"/><rect x="1029" y="262" width="5" height="4" fill="#000"/><rect x="1030" y="263" width="3" height="2" fill="#FFF"/><rect x="1039" y="199" width="1" height="65" fill="#000"/><rect x="1037" y="202" width="5" height="61" fill="#000"/><rect x="1038" y="203" width="3" height="59" fill="#FFF"/><rect x="1047" y="194" width="1" height="97" fill="#000"/><rect x="1045" y="202" width="5" height="89" fill="#000"/><rect x="1055" y="270" width="1" height="25" fill="#000"/><rect x="1053" y="270" width="5" height="22" fill="#000"/><rect x="1054" y="271" width="3" height="20" fill="#FFF"/><rect x="1063" y="265" width="1" height="15" fill="#000"/><rect x="1061" y="270" width="5" height="2" fill="#000"/><rect x="1071" y="263" width="1" height="41" fill="#000"/><rect x="1069" y="270" width="5" height="20" fill="#000"/><rect x="1079" y="252" width="1" height="40" fill="#000"/><rect x="1077" y="253" width="5" height="38" fill="#000"/><rect x="1078" y="254" width="3" height="36" fill="#FFF"/><rect x="1087" y="239" width="1" height="53" fill="#000"/><rect x="1085" y="254" width="5" height="17" fill="#000"/><rect x="1095" y="244" width="1" height="63" fill="#000"/><rect x="1093" y="270" width="5" height="16" fill="#000"/><rect x="1103" y="279" width="1" height="18" fill="#000"/><rect x="1101" y="284" width="5" height="2" fill="#000"/><rect x="1111" y="280" width="1" height="22" fill="#000"/><rect x="1109" y="284" width="5" height="3" fill="#000"/><rect x="1119" y="272" width="1" height="34" fill="#000"/><rect x="1117" y="285" width="5" height="12" fill="#000"/><rect x="1127" y="273" width="1" height="32" fill="#000"/><rect x="1125" y="283" width="5" height="14" fill="#000"/><rect x="1126" y="284" width="3" height="12" fill="#FFF"/><rect x="1135" y="278" width="1" height="32" fill="#000"/><rect x="1133" y="283" width="5" height="6" fill="#000"/><rect x="1143" y="174" width="1" height="118" fill="#000"/><rect x="1141" y="180" width="5" height="109" fill="#000"/><rect x="1142" y="181" width="3" height="107" fill="#FFF"/><rect x="1151" y="164" width="1" height="27" fill="#000"/><rect x="1149" y="171" width="5" height="10" fill="#000"/><rect x="1150" y="172" width="3" height="8" fill="#FFF"/><rect x="1159" y="160" width="1" height="17" fill="#000"/><rect x="1157" y="161" width="5" height="12" fill="#000"/><rect x="1158" y="162" width="3" height="10" fill="#FFF"/><rect x="1167" y="154" width="1" height="31" fill="#000"/><rect x="1165" y="161" width="5" height="9" fill="#000"/><rect x="1175" y="131" width="1" height="42" fill="#000"/><rect x="1173" y="132" width="5" height="38" fill="#000"/><rect x="1174" y="133" width="3" height="36" fill="#FFF"/><rect x="1183" y="58" width="1" height="76" fill="#000"/><rect x="1181" y="91" width="5" height="43" fill="#000"/><rect x="1182" y="92" width="3" height="41" fill="#FFF"/><rect x="1191" y="62" width="1" height="56" fill="#000"/><rect x="1189" y="72" width="5" height="21" fill="#000"/><rect x="1190" y="73" width="3" height="19" fill="#FFF"/><rect x="1199" y="56" width="1" height="24" fill="#000"/><rect x="1197" y="72" width="5" height="3" fill="#000"/><rect x="1207" y="67" width="1" height="14" fill="#000"/><rect x="1205" y="70" width="5" height="5" fill="#000"/><rect x="1206" y="71" width="3" height="3" fill="#FFF"/><rect x="1215" y="52" width="1" height="23" fill="#000"/><rect x="1213" y="69" width="5" height="2" fill="#000"/><rect x="1223" y="52" width="1" height="23" fill="#000"/><rect x="1221" y="69" width="5" height="2" fill="#000"/><rect x="1231" y="66" width="1" height="45" fill="#000"/><rect x="1229" y="70" width="5" height="27" fill="#000"/><rect x="1239" y="63" width="1" height="95" fill="#000"/><rect x="1237" y="96" width="5" height="34" fill="#000"/><rect x="1247" y="126" width="1" height="73" fill="#000"/><rect x="1245" y="128" width="5" height="51" fill="#000"/><rect x="1255" y="156" width="1" height="12" fill="#000"/><rect x="1253" y="157" width="5" height="4" fill="#000"/><rect x="1263" y="149" width="1" height="31" fill="#000"/><rect x="1261" y="160" width="5" height="6" fill="#000"/><rect x="1271" y="158" width="1" height="53" fill="#000"/><rect x="1269" y="164" width="5" height="46" fill="#000"/><rect x="1279" y="204" width="1" height="28" fill="#000"/><rect x="1277" y="207" width="5" height="15" fill="#000"/><rect x="1287" y="193" width="1" height="28" fill="#000"/><rect x="1285" y="207" width="5" height="14" fill="#000"/><rect x="1286" y="208" width="3" height="12" fill="#FFF"/><rect x="1295" y="198" width="1" height="18" fill="#000"/><rect x="1293" y="199" width="5" height="11" fill="#000"/><rect x="1294" y="200" width="3" height="9" fill="#FFF"/><rect x="1303" y="192" width="1" height="16" fill="#000"/><rect x="1301" y="199" width="5" height="9" fill="#000"/><rect x="1311" y="202" width="1" height="33" fill="#000"/><rect x="1309" y="203" width="5" height="20" fill="#000"/><rect x="1319" y="206" width="1" height="31" fill="#000"/><rect x="1317" y="221" width="5" height="16" fill="#000"/><rect x="1327" y="217" width="1" height="55" fill="#000"/><rect x="1325" y="235" width="5" height="27" fill="#000"/><rect x="1335" y="229" width="1" height="61" fill="#000"/><rect x="1333" y="259" width="5" height="3" fill="#000"/><rect x="1343" y="253" width="1" height="20" fill="#000"/><rect x="1341" y="260" width="5" height="7" fill="#000"/><rect x="1351" y="258" width="1" height="22" fill="#000"/><rect x="1349" y="264" width="5" height="9" fill="#000"/><rect x="1359" y="267" width="1" height="47" fill="#000"/><rect x="1357" y="271" width="5" height="3" fill="#000"/><rect x="1367" y="242" width="1" height="56" fill="#000"/><rect x="1365" y="264" width="5" height="9" fill="#000"/><rect x="1366" y="265" width="3" height="7" fill="#FFF"/><rect x="1375" y="227" width="1" height="39" fill="#000"/><rect x="1373" y="254" width="5" height="12" fill="#000"/><rect x="1374" y="255" width="3" height="10" fill="#FFF"/><rect x="1383" y="227" width="1" height="65" fill="#000"/><rect x="1381" y="254" width="5" height="15" fill="#000"/><rect x="1391" y="245" width="1" height="41" fill="#000"/><rect x="1389" y="267" width="5" height="5" fill="#000"/><rect x="1399" y="257" width="1" height="18" fill="#000"/><rect x="1397" y="264" width="5" height="7" fill="#000"/><rect x="1398" y="265" width="3" height="5" fill="#FFF"/><rect x="1407" y="261" width="1" height="49" fill="#000"/><rect x="1405" y="264" width="5" height="16" fill="#000"/><rect x="1415" y="278" width="1" height="167" fill="#000"/><rect x="1413" y="278" width="5" height="163" fill="#000"/><rect x="1423" y="386" width="1" height="65" fill="#000"/><rect x="1421" y="440" width="5" height="9" fill="#000"/><rect x="1431" y="426" width="1" height="67" fill="#000"/><rect x="1429" y="434" width="5" height="16" fill="#000"/><rect x="1430" y="435" width="3" height="14" fill="#FFF"/><rect x="1439" y="423" width="1" height="21" fill="#000"/><rect x="1437" y="432" width="5" height="12" fill="#000"/><rect x="1447" y="439" width="1" height="42" fill="#000"/><rect x="1445" y="442" width="5" height="39" fill="#000"/></g><rect x="1382" y="450" width="127" height="8" fill="#00FF00"/><rect x="1512.5" y="478.5" width="110" height="24" fill="#FFF" stroke="#333"/><path transform="translate(1513.50,480) scale(0.9750)" d="M8 0L3 5M5 2H13L4 10M6 5L9 7M10 8L3 13M7 10H17L3 20M8 13L11 15" fill="none" stroke="#00FF00" stroke-width="1.38" stroke-linecap="square"/><path transform="translate(1535.50,480) scale(0.9750)" d="M10 0V2M2 5V3H18V5M7 5L4 9M12 5L16 9M5 11H15M10 11V18M2 18H18" fill="none" stroke="#00FF00" stroke-width="1.38" stroke-linecap="square"/><path transform="translate(1557.50,480) scale(0.9750)" d="M1 5H8M4 1L2 11H8M5 8V19M1 15L8 13M10 4H19M11 9H19M14 1L12 13H18L14 17M13 15L17 19" fill="none" stroke="#00FF00" stroke-width="1.38" stroke-linecap="square"/><path transform="translate(1579.50,480) scale(0.9750)" d="M1 6H8M5 1V18L3 17M1 13L8 10M17 1L11 4M11 4V12L9 19M11 9H19M15 9V19" fill="none" stroke="#00FF00" stroke-width="1.38" stroke-linecap="square"/><path transform="translate(1601.50,480) scale(0.9750)" d="M9 0V8M9 4H16M4 8H16V14H4ZM2 16L1 19M7 16L8 19M12 16L13 19M17 16L19 19" fill="none" stroke="#00FF00" stroke-width="1.38" stroke-linecap="square"/><rect x="1565" y="476" width="3" height="3" fill="none" stroke="#C040C0" stroke-width="0.8"/><path d="M1228.0 66.5L1456.3 500.2" stroke="#FF0000" stroke-width="3" fill="none"/><path d="M1461.0 509.0L1460.8 497.8L1451.9 502.5Z" fill="#FF0000"/><path d="M1452 25H1461L1456.5 30Z" fill="#C0C0C0"/></g><path d="M2 35H9L5.5 31Z" fill="#000"/><text x="14.5" y="36.3" font-size="10" fill="#000" textLength="199.9" lengthAdjust="spacingAndGlyphs" xml:space="preserve" >USDJPY-,H4  109.771 109.782 109.593 109.593</text><defs><linearGradient id="gt" x1="0" y1="0" x2="0" y2="1"><stop offset="0" stop-color="#FA5555"/><stop offset="1" stop-color="#DA2A2A"/></linearGradient><linearGradient id="gb" x1="0" y1="0" x2="0" y2="1"><stop offset="0" stop-color="#D82828"/><stop offset="1" stop-color="#B00808"/></linearGradient><linearGradient id="gbtn" x1="0" y1="0" x2="0" y2="1"><stop offset="0" stop-color="#F4F4F4"/><stop offset="1" stop-color="#CDCDCD"/></linearGradient></defs><path d="M2 44H54V68H111V101H2Z" fill="#B40A0A"/><rect x="3" y="45" width="50" height="23" fill="url(#gt)"/><rect x="3" y="68" width="107" height="32" fill="url(#gb)"/><rect x="6" y="67" width="44" height="1" fill="#7A0000"/><rect x="6" y="68" width="44" height="1" fill="#F07070"/><text x="14" y="60" font-size="12" fill="#FFF" textLength="26" lengthAdjust="spacingAndGlyphs">SELL</text><text x="25" y="96" font-size="12" font-weight="bold" fill="#FFF" textLength="20.5" lengthAdjust="spacingAndGlyphs">109</text><text x="50" y="96" font-size="33" fill="#FFF" textLength="34" lengthAdjust="spacingAndGlyphs">59</text><text x="89" y="80" font-size="12" font-weight="bold" fill="#FFF">3</text><path d="M169 44H221V101H113V68H169Z" fill="#B40A0A"/><rect x="170" y="45" width="50" height="23" fill="url(#gt)"/><rect x="114" y="68" width="106" height="32" fill="url(#gb)"/><rect x="173" y="67" width="44" height="1" fill="#7A0000"/><rect x="173" y="68" width="44" height="1" fill="#F07070"/><text x="182" y="60" font-size="12" fill="#FFF" textLength="24" lengthAdjust="spacingAndGlyphs">BUY</text><text x="135" y="96" font-size="12" font-weight="bold" fill="#FFF" textLength="20.5" lengthAdjust="spacingAndGlyphs">109</text><text x="161" y="96" font-size="33" fill="#FFF" textLength="34" lengthAdjust="spacingAndGlyphs">88</text><text x="199.5" y="80" font-size="12" font-weight="bold" fill="#FFF">2</text><rect x="56.5" y="44.5" width="110" height="21" fill="#FFF" stroke="#A8A8A8"/><rect x="57" y="45" width="20" height="20" fill="url(#gbtn)"/><rect x="77" y="45" width="1" height="20" fill="#B0B0B0"/><rect x="145" y="45" width="1" height="20" fill="#B0B0B0"/><rect x="146" y="45" width="20" height="20" fill="url(#gbtn)"/><path d="M64 53H69.5L66.75 56Z" fill="#4060C0"/><path d="M152.5 55H158L155.25 52Z" fill="#4060C0"/><text x="119" y="59" font-size="12.5" fill="#000" textLength="23" lengthAdjust="spacingAndGlyphs">1.00</text><g font-size="10" fill="#000"><rect x="1658" y="45" width="3" height="1" fill="#000" shape-rendering="crispEdges"/><text x="1663.5" y="49.6" textLength="32" lengthAdjust="spacingAndGlyphs">111.685</text><rect x="1658" y="78" width="3" height="1" fill="#000" shape-rendering="crispEdges"/><text x="1663.5" y="82.7" textLength="32" lengthAdjust="spacingAndGlyphs">111.525</text><rect x="1658" y="111" width="3" height="1" fill="#000" shape-rendering="crispEdges"/><text x="1663.5" y="115.8" textLength="32" lengthAdjust="spacingAndGlyphs">111.365</text><rect x="1658" y="144" width="3" height="1" fill="#000" shape-rendering="crispEdges"/><text x="1663.5" y="148.9" textLength="32" lengthAdjust="spacingAndGlyphs">111.205</text><rect x="1658" y="177" width="3" height="1" fill="#000" shape-rendering="crispEdges"/><text x="1663.5" y="182.1" textLength="32" lengthAdjust="spacingAndGlyphs">111.045</text><rect x="1658" y="211" width="3" height="1" fill="#000" shape-rendering="crispEdges"/><text x="1663.5" y="215.2" textLength="32" lengthAdjust="spacingAndGlyphs">110.885</text><rect x="1658" y="244" width="3" height="1" fill="#000" shape-rendering="crispEdges"/><text x="1663.5" y="248.3" textLength="32" lengthAdjust="spacingAndGlyphs">110.725</text><rect x="1658" y="277" width="3" height="1" fill="#000" shape-rendering="crispEdges"/><text x="1663.5" y="281.4" textLength="32" lengthAdjust="spacingAndGlyphs">110.565</text><rect x="1658" y="310" width="3" height="1" fill="#000" shape-rendering="crispEdges"/><text x="1663.5" y="314.5" textLength="32" lengthAdjust="spacingAndGlyphs">110.405</text><rect x="1658" y="343" width="3" height="1" fill="#000" shape-rendering="crispEdges"/><text x="1663.5" y="347.6" textLength="32" lengthAdjust="spacingAndGlyphs">110.245</text><rect x="1658" y="375" width="3" height="1" fill="#000" shape-rendering="crispEdges"/><text x="1663.5" y="379.7" textLength="32" lengthAdjust="spacingAndGlyphs">110.090</text><rect x="1658" y="408" width="3" height="1" fill="#000" shape-rendering="crispEdges"/><text x="1663.5" y="412.8" textLength="32" lengthAdjust="spacingAndGlyphs">109.930</text><rect x="1658" y="441" width="3" height="1" fill="#000" shape-rendering="crispEdges"/><text x="1663.5" y="445.9" textLength="32" lengthAdjust="spacingAndGlyphs">109.770</text><rect x="1658" y="474" width="3" height="1" fill="#000" shape-rendering="crispEdges"/><text x="1663.5" y="479.1" textLength="32" lengthAdjust="spacingAndGlyphs">109.610</text><rect x="1658" y="508" width="3" height="1" fill="#000" shape-rendering="crispEdges"/><text x="1663.5" y="512.2" textLength="32" lengthAdjust="spacingAndGlyphs">109.450</text><rect x="1658" y="541" width="3" height="1" fill="#000" shape-rendering="crispEdges"/><text x="1663.5" y="545.3" textLength="32" lengthAdjust="spacingAndGlyphs">109.290</text><rect x="1658" y="574" width="3" height="1" fill="#000" shape-rendering="crispEdges"/><text x="1663.5" y="578.4" textLength="32" lengthAdjust="spacingAndGlyphs">109.130</text></g><rect x="1659" y="401" width="41" height="11" fill="#FF0000"/><text x="1663.5" y="410.2" font-size="10" fill="#FFF" textLength="32" lengthAdjust="spacingAndGlyphs">109.939</text><rect x="1659" y="427" width="41" height="11" fill="#FF0000"/><text x="1663.5" y="436.2" font-size="10" fill="#FFF" textLength="32" lengthAdjust="spacingAndGlyphs">109.814</text><rect x="1659" y="448" width="41" height="11" fill="#32CD32"/><text x="1663.5" y="457.2" font-size="10" fill="#FFF" textLength="32" lengthAdjust="spacingAndGlyphs">109.710</text><rect x="1659" y="473" width="41" height="11" fill="#000000"/><text x="1663.5" y="482.2" font-size="10" fill="#FFF" textLength="32" lengthAdjust="spacingAndGlyphs">109.593</text><rect x="1659" y="497" width="41" height="11" fill="#0000FF"/><text x="1663.5" y="506.2" font-size="10" fill="#FFF" textLength="32" lengthAdjust="spacingAndGlyphs">109.473</text><rect x="1659" y="524" width="41" height="11" fill="#0000FF"/><text x="1663.5" y="533.2" font-size="10" fill="#FFF" textLength="32" lengthAdjust="spacingAndGlyphs">109.345</text><text x="3.5" y="592.3" font-size="10" fill="#000" textLength="133.4" lengthAdjust="spacingAndGlyphs" xml:space="preserve" >MACD(12,26,9) -0.3118 -0.1886</text><g clip-path="url(#cmacd)" shape-rendering="crispEdges"><rect x="7" y="610" width="1" height="50" fill="#C0C0C0"/><rect x="15" y="602" width="1" height="58" fill="#C0C0C0"/><rect x="23" y="596" width="1" height="64" fill="#C0C0C0"/><rect x="31" y="591" width="1" height="69" fill="#C0C0C0"/><rect x="39" y="590" width="1" height="70" fill="#C0C0C0"/><rect x="47" y="592" width="1" height="68" fill="#C0C0C0"/><rect x="55" y="593" width="1" height="67" fill="#C0C0C0"/><rect x="63" y="596" width="1" height="64" fill="#C0C0C0"/><rect x="71" y="600" width="1" height="60" fill="#C0C0C0"/><rect x="79" y="605" width="1" height="55" fill="#C0C0C0"/><rect x="87" y="613" width="1" height="47" fill="#C0C0C0"/><rect x="95" y="619" width="1" height="41" fill="#C0C0C0"/><rect x="103" y="625" width="1" height="35" fill="#C0C0C0"/><rect x="111" y="631" width="1" height="29" fill="#C0C0C0"/><rect x="119" y="636" width="1" height="24" fill="#C0C0C0"/><rect x="127" y="636" width="1" height="24" fill="#C0C0C0"/><rect x="135" y="641" width="1" height="19" fill="#C0C0C0"/><rect x="143" y="644" width="1" height="16" fill="#C0C0C0"/><rect x="151" y="647" width="1" height="13" fill="#C0C0C0"/><rect x="159" y="646" width="1" height="14" fill="#C0C0C0"/><rect x="167" y="642" width="1" height="18" fill="#C0C0C0"/><rect x="175" y="640" width="1" height="20" fill="#C0C0C0"/><rect x="183" y="641" width="1" height="19" fill="#C0C0C0"/><rect x="191" y="644" width="1" height="16" fill="#C0C0C0"/><rect x="199" y="645" width="1" height="15" fill="#C0C0C0"/><rect x="207" y="645" width="1" height="15" fill="#C0C0C0"/><rect x="215" y="643" width="1" height="17" fill="#C0C0C0"/><rect x="223" y="640" width="1" height="20" fill="#C0C0C0"/><rect x="231" y="629" width="1" height="31" fill="#C0C0C0"/><rect x="239" y="620" width="1" height="40" fill="#C0C0C0"/><rect x="247" y="614" width="1" height="46" fill="#C0C0C0"/><rect x="255" y="611" width="1" height="49" fill="#C0C0C0"/><rect x="263" y="610" width="1" height="50" fill="#C0C0C0"/><rect x="271" y="611" width="1" height="49" fill="#C0C0C0"/><rect x="279" y="627" width="1" height="33" fill="#C0C0C0"/><rect x="287" y="638" width="1" height="22" fill="#C0C0C0"/><rect x="295" y="645" width="1" height="15" fill="#C0C0C0"/><rect x="303" y="651" width="1" height="9" fill="#C0C0C0"/><rect x="311" y="658" width="1" height="2" fill="#C0C0C0"/><rect x="319" y="659" width="1" height="9" fill="#C0C0C0"/><rect x="327" y="659" width="1" height="17" fill="#C0C0C0"/><rect x="335" y="659" width="1" height="24" fill="#C0C0C0"/><rect x="343" y="659" width="1" height="27" fill="#C0C0C0"/><rect x="351" y="659" width="1" height="27" fill="#C0C0C0"/><rect x="359" y="659" width="1" height="25" fill="#C0C0C0"/><rect x="367" y="659" width="1" height="24" fill="#C0C0C0"/><rect x="375" y="659" width="1" height="23" fill="#C0C0C0"/><rect x="383" y="659" width="1" height="20" fill="#C0C0C0"/><rect x="391" y="659" width="1" height="20" fill="#C0C0C0"/><rect x="399" y="659" width="1" height="18" fill="#C0C0C0"/><rect x="407" y="659" width="1" height="18" fill="#C0C0C0"/><rect x="415" y="659" width="1" height="18" fill="#C0C0C0"/><rect x="423" y="659" width="1" height="13" fill="#C0C0C0"/><rect x="431" y="659" width="1" height="10" fill="#C0C0C0"/><rect x="439" y="659" width="1" height="7" fill="#C0C0C0"/><rect x="447" y="659" width="1" height="6" fill="#C0C0C0"/><rect x="455" y="659" width="1" height="5" fill="#C0C0C0"/><rect x="463" y="659" width="1" height="5" fill="#C0C0C0"/><rect x="471" y="659" width="1" height="6" fill="#C0C0C0"/><rect x="479" y="659" width="1" height="9" fill="#C0C0C0"/><rect x="487" y="659" width="1" height="10" fill="#C0C0C0"/><rect x="495" y="659" width="1" height="12" fill="#C0C0C0"/><rect x="503" y="659" width="1" height="12" fill="#C0C0C0"/><rect x="511" y="659" width="1" height="9" fill="#C0C0C0"/><rect x="519" y="659" width="1" height="3" fill="#C0C0C0"/><rect x="527" y="658" width="1" height="2" fill="#C0C0C0"/><rect x="535" y="654" width="1" height="6" fill="#C0C0C0"/><rect x="543" y="651" width="1" height="9" fill="#C0C0C0"/><rect x="551" y="649" width="1" height="11" fill="#C0C0C0"/><rect x="559" y="647" width="1" height="13" fill="#C0C0C0"/><rect x="567" y="641" width="1" height="19" fill="#C0C0C0"/><rect x="575" y="635" width="1" height="25" fill="#C0C0C0"/><rect x="583" y="631" width="1" height="29" fill="#C0C0C0"/><rect x="591" y="627" width="1" height="33" fill="#C0C0C0"/><rect x="599" y="625" width="1" height="35" fill="#C0C0C0"/><rect x="607" y="622" width="1" height="38" fill="#C0C0C0"/><rect x="615" y="620" width="1" height="40" fill="#C0C0C0"/><rect x="623" y="621" width="1" height="39" fill="#C0C0C0"/><rect x="631" y="621" width="1" height="39" fill="#C0C0C0"/><rect x="639" y="622" width="1" height="38" fill="#C0C0C0"/><rect x="647" y="626" width="1" height="34" fill="#C0C0C0"/><rect x="655" y="629" width="1" height="31" fill="#C0C0C0"/><rect x="663" y="634" width="1" height="26" fill="#C0C0C0"/><rect x="671" y="623" width="1" height="37" fill="#C0C0C0"/><rect x="679" y="610" width="1" height="50" fill="#C0C0C0"/><rect x="687" y="602" width="1" height="58" fill="#C0C0C0"/><rect x="695" y="600" width="1" height="60" fill="#C0C0C0"/><rect x="703" y="596" width="1" height="64" fill="#C0C0C0"/><rect x="711" y="603" width="1" height="57" fill="#C0C0C0"/><rect x="719" y="609" width="1" height="51" fill="#C0C0C0"/><rect x="727" y="613" width="1" height="47" fill="#C0C0C0"/><rect x="735" y="619" width="1" height="41" fill="#C0C0C0"/><rect x="743" y="629" width="1" height="31" fill="#C0C0C0"/><rect x="751" y="635" width="1" height="25" fill="#C0C0C0"/><rect x="759" y="637" width="1" height="23" fill="#C0C0C0"/><rect x="767" y="641" width="1" height="19" fill="#C0C0C0"/><rect x="775" y="643" width="1" height="17" fill="#C0C0C0"/><rect x="783" y="653" width="1" height="7" fill="#C0C0C0"/><rect x="791" y="656" width="1" height="4" fill="#C0C0C0"/><rect x="799" y="657" width="1" height="3" fill="#C0C0C0"/><rect x="807" y="656" width="1" height="4" fill="#C0C0C0"/><rect x="815" y="653" width="1" height="7" fill="#C0C0C0"/><rect x="823" y="649" width="1" height="11" fill="#C0C0C0"/><rect x="831" y="645" width="1" height="15" fill="#C0C0C0"/><rect x="839" y="641" width="1" height="19" fill="#C0C0C0"/><rect x="847" y="637" width="1" height="23" fill="#C0C0C0"/><rect x="855" y="630" width="1" height="30" fill="#C0C0C0"/><rect x="863" y="627" width="1" height="33" fill="#C0C0C0"/><rect x="871" y="625" width="1" height="35" fill="#C0C0C0"/><rect x="879" y="621" width="1" height="39" fill="#C0C0C0"/><rect x="887" y="616" width="1" height="44" fill="#C0C0C0"/><rect x="895" y="613" width="1" height="47" fill="#C0C0C0"/><rect x="903" y="611" width="1" height="49" fill="#C0C0C0"/><rect x="911" y="608" width="1" height="52" fill="#C0C0C0"/><rect x="919" y="605" width="1" height="55" fill="#C0C0C0"/><rect x="927" y="603" width="1" height="57" fill="#C0C0C0"/><rect x="935" y="606" width="1" height="54" fill="#C0C0C0"/><rect x="943" y="610" width="1" height="50" fill="#C0C0C0"/><rect x="951" y="611" width="1" height="49" fill="#C0C0C0"/><rect x="959" y="614" width="1" height="46" fill="#C0C0C0"/><rect x="967" y="615" width="1" height="45" fill="#C0C0C0"/><rect x="975" y="618" width="1" height="42" fill="#C0C0C0"/><rect x="983" y="623" width="1" height="37" fill="#C0C0C0"/><rect x="991" y="628" width="1" height="32" fill="#C0C0C0"/><rect x="999" y="631" width="1" height="29" fill="#C0C0C0"/><rect x="1007" y="633" width="1" height="27" fill="#C0C0C0"/><rect x="1015" y="635" width="1" height="25" fill="#C0C0C0"/><rect x="1023" y="640" width="1" height="20" fill="#C0C0C0"/><rect x="1031" y="645" width="1" height="15" fill="#C0C0C0"/><rect x="1039" y="642" width="1" height="18" fill="#C0C0C0"/><rect x="1047" y="649" width="1" height="11" fill="#C0C0C0"/><rect x="1055" y="653" width="1" height="7" fill="#C0C0C0"/><rect x="1063" y="656" width="1" height="4" fill="#C0C0C0"/><rect x="1087" y="659" width="1" height="3" fill="#C0C0C0"/><rect x="1095" y="659" width="1" height="5" fill="#C0C0C0"/><rect x="1103" y="659" width="1" height="7" fill="#C0C0C0"/><rect x="1111" y="659" width="1" height="8" fill="#C0C0C0"/><rect x="1119" y="659" width="1" height="10" fill="#C0C0C0"/><rect x="1127" y="659" width="1" height="10" fill="#C0C0C0"/><rect x="1135" y="659" width="1" height="12" fill="#C0C0C0"/><rect x="1151" y="651" width="1" height="9" fill="#C0C0C0"/><rect x="1159" y="643" width="1" height="17" fill="#C0C0C0"/><rect x="1167" y="638" width="1" height="22" fill="#C0C0C0"/><rect x="1175" y="630" width="1" height="30" fill="#C0C0C0"/><rect x="1183" y="621" width="1" height="39" fill="#C0C0C0"/><rect x="1191" y="612" width="1" height="48" fill="#C0C0C0"/><rect x="1199" y="605" width="1" height="55" fill="#C0C0C0"/><rect x="1207" y="600" width="1" height="60" fill="#C0C0C0"/><rect x="1215" y="597" width="1" height="63" fill="#C0C0C0"/><rect x="1223" y="596" width="1" height="64" fill="#C0C0C0"/><rect x="1231" y="598" width="1" height="62" fill="#C0C0C0"/><rect x="1239" y="603" width="1" height="57" fill="#C0C0C0"/><rect x="1247" y="613" width="1" height="47" fill="#C0C0C0"/><rect x="1255" y="620" width="1" height="40" fill="#C0C0C0"/><rect x="1263" y="627" width="1" height="33" fill="#C0C0C0"/><rect x="1271" y="635" width="1" height="25" fill="#C0C0C0"/><rect x="1279" y="644" width="1" height="16" fill="#C0C0C0"/><rect x="1287" y="650" width="1" height="10" fill="#C0C0C0"/><rect x="1295" y="654" width="1" height="6" fill="#C0C0C0"/><rect x="1303" y="658" width="1" height="2" fill="#C0C0C0"/><rect x="1311" y="659" width="1" height="3" fill="#C0C0C0"/><rect x="1319" y="659" width="1" height="8" fill="#C0C0C0"/><rect x="1327" y="659" width="1" height="14" fill="#C0C0C0"/><rect x="1335" y="659" width="1" height="20" fill="#C0C0C0"/><rect x="1343" y="659" width="1" height="24" fill="#C0C0C0"/><rect x="1351" y="659" width="1" height="27" fill="#C0C0C0"/><rect x="1359" y="659" width="1" height="30" fill="#C0C0C0"/><rect x="1367" y="659" width="1" height="31" fill="#C0C0C0"/><rect x="1375" y="659" width="1" height="32" fill="#C0C0C0"/><rect x="1383" y="659" width="1" height="30" fill="#C0C0C0"/><rect x="1391" y="659" width="1" height="31" fill="#C0C0C0"/><rect x="1399" y="659" width="1" height="30" fill="#C0C0C0"/><rect x="1407" y="659" width="1" height="30" fill="#C0C0C0"/><rect x="1415" y="659" width="1" height="47" fill="#C0C0C0"/><rect x="1423" y="659" width="1" height="59" fill="#C0C0C0"/><rect x="1431" y="659" width="1" height="67" fill="#C0C0C0"/><rect x="1439" y="659" width="1" height="75" fill="#C0C0C0"/><rect x="1447" y="659" width="1" height="82" fill="#C0C0C0"/></g><polyline clip-path="url(#cmacd)" points="0.0,647.8 11.7,637.2 23.5,627.8 35.2,617.3 47.0,607.4 58.7,598.5 68.0,595.7 79.8,595.0 93.9,597.8 105.6,603.2 117.4,612.1 129.1,618.4 140.8,625.5 152.6,632.5 164.3,637.2 183.1,640.3 199.5,641.9 211.3,643.5 225.4,642.4 234.7,639.6 248.8,634.9 262.9,627.8 274.6,622.0 288.7,621.5 302.8,623.1 314.6,631.3 328.6,643.1 342.7,658.3 352.1,666.5 366.2,673.6 377.9,678.8 389.7,680.6 400.0,682.5 419.5,679.0 431.2,677.6 443.0,673.6 454.7,670.8 466.4,668.9 478.2,667.0 501.6,666.5 520.4,666.1 536.8,664.2 550.9,661.9 565.0,656.0 579.1,648.9 590.8,644.2 602.6,637.2 616.7,632.5 630.7,626.6 644.8,623.6 658.9,623.6 666.0,624.3 682.4,622.0 696.5,618.4 708.2,613.7 719.9,611.4 729.3,609.0 738.7,607.4 748.1,610.2 759.8,616.1 771.6,622.0 783.3,630.2 792.0,636.5 803.7,643.1 815.5,647.3 827.2,648.5 838.9,649.4 848.3,649.4 862.4,643.1 874.2,637.9 888.2,630.2 902.3,623.1 916.4,616.8 932.8,611.9 942.2,609.0 956.3,608.3 970.4,608.3 984.5,611.4 998.6,616.8 1015.0,622.0 1031.4,629.5 1045.5,634.9 1062.0,641.9 1073.7,645.9 1087.8,651.3 1104.2,656.7 1120.6,661.4 1134.7,664.9 1144.1,665.4 1153.5,663.0 1167.6,660.0 1179.3,652.5 1188.0,646.6 1199.7,637.2 1211.5,624.3 1223.2,613.7 1235.0,607.4 1246.7,604.3 1258.4,604.3 1270.2,607.9 1281.9,614.9 1293.6,624.3 1305.4,634.9 1317.1,644.2 1328.8,652.5 1340.6,663.0 1352.3,668.9 1364.1,674.8 1375.8,679.5 1387.5,683.5 1399.3,686.5 1411.0,688.4 1422.7,693.5 1434.5,701.8 1446.2,708.8" fill="none" stroke="#FF0000" stroke-width="1" stroke-dasharray="3,3" shape-rendering="crispEdges"/><path d="M1231.4 611.4L1439.7 720.6" stroke="#FF0000" stroke-width="3" fill="none"/><path d="M1448.6 725.2L1442.1 716.1L1437.4 725.0Z" fill="#FF0000"/><rect x="1658" y="581" width="2" height="1" fill="#000"/><text x="1661" y="590.5" font-size="10" fill="#000" textLength="28.1" lengthAdjust="spacingAndGlyphs" xml:space="preserve" >0.3007</text><rect x="1658" y="659" width="2" height="1" fill="#000"/><text x="1661" y="663.3" font-size="10" fill="#000" textLength="17.9" lengthAdjust="spacingAndGlyphs" xml:space="preserve" >0.00</text><rect x="1658" y="748" width="2" height="1" fill="#000"/><text x="1661" y="746.3" font-size="10" fill="#000" textLength="31.2" lengthAdjust="spacingAndGlyphs" xml:space="preserve" >-0.3409</text><text x="3" y="764.8" font-size="10" fill="#000" textLength="67.5" lengthAdjust="spacingAndGlyphs" xml:space="preserve" >RSI(14) 18.1758</text><path d="M0 787.5H1657" stroke="#C0C0C0" stroke-width="1" stroke-dasharray="3,3" shape-rendering="crispEdges"/><path d="M0 838.5H1657" stroke="#C0C0C0" stroke-width="1" stroke-dasharray="3,3" shape-rendering="crispEdges"/><path d="M0 899.5H1657" stroke="#C0C0C0" stroke-width="1" stroke-dasharray="3,3" shape-rendering="crispEdges"/><polyline clip-path="url(#crsi)" points="-0.5,800.2 7.5,799.5 15.5,796.2 23.5,797.3 31.5,793.1 39.5,808.8 47.5,812.4 55.5,807.9 63.5,824.3 71.5,823.2 79.5,826.5 87.5,838.2 95.5,834.2 103.5,837.3 111.5,840.5 119.5,837.0 127.5,829.0 135.5,842.4 143.5,839.4 151.5,838.2 159.5,830.2 167.5,822.0 175.5,821.3 183.5,833.7 191.5,838.2 199.5,834.9 207.5,830.7 215.5,821.3 223.5,824.3 231.5,804.4 239.5,805.6 247.5,804.4 255.5,808.4 263.5,812.6 271.5,820.1 279.5,854.6 287.5,850.6 295.5,845.5 303.5,848.8 311.5,854.2 319.5,857.7 327.5,860.0 335.5,861.2 343.5,859.3 351.5,850.2 359.5,842.4 367.5,848.3 375.5,845.5 383.5,844.3 391.5,844.3 399.5,844.3 407.5,845.5 415.5,849.9 423.5,833.5 431.5,832.3 439.5,833.7 447.5,838.2 455.5,838.4 463.5,841.2 471.5,843.1 479.5,857.2 487.5,849.5 495.5,849.5 503.5,845.9 511.5,835.4 519.5,820.6 527.5,824.3 535.5,824.3 543.5,820.6 551.5,827.9 559.5,823.6 567.5,809.6 575.5,806.5 583.5,807.7 591.5,805.6 599.5,808.8 607.5,805.6 615.5,805.6 623.5,815.0 631.5,813.5 639.5,812.6 647.5,830.0 655.5,830.2 663.5,837.0 671.5,797.1 679.5,793.6 687.5,796.6 695.5,807.9 703.5,804.4 711.5,831.2 719.5,831.4 727.5,829.0 735.5,836.5 743.5,847.1 751.5,838.9 759.5,834.9 767.5,838.2 775.5,836.1 783.5,854.2 791.5,841.7 799.5,839.6 807.5,833.5 815.5,830.0 823.5,826.5 831.5,824.8 839.5,822.0 847.5,820.8 855.5,811.4 863.5,820.1 871.5,817.8 879.5,813.8 887.5,809.1 895.5,811.4 903.5,811.4 911.5,807.2 919.5,805.3 927.5,805.3 935.5,817.3 943.5,822.9 951.5,818.5 959.5,822.9 967.5,819.6 975.5,823.6 983.5,833.0 991.5,834.2 999.5,831.4 1007.5,827.2 1015.5,829.0 1023.5,844.3 1031.5,843.1 1039.5,823.2 1047.5,849.0 1055.5,844.3 1063.5,844.3 1071.5,847.8 1079.5,838.2 1087.5,842.4 1095.5,846.4 1103.5,846.4 1111.5,847.1 1119.5,850.2 1127.5,845.5 1135.5,846.6 1143.5,815.0 1151.5,813.5 1159.5,811.4 1167.5,815.0 1175.5,807.2 1183.5,800.2 1191.5,797.8 1199.5,798.5 1207.5,797.1 1215.5,797.1 1223.5,798.5 1231.5,808.4 1239.5,820.1 1247.5,840.8 1255.5,836.5 1263.5,837.7 1271.5,849.9 1279.5,853.0 1287.5,848.3 1295.5,846.4 1303.5,848.3 1311.5,851.8 1319.5,855.3 1327.5,862.8 1335.5,863.1 1343.5,863.5 1351.5,865.4 1359.5,865.9 1367.5,862.4 1375.5,856.5 1383.5,860.5 1391.5,861.7 1399.5,858.4 1407.5,863.5 1415.5,893.6 1423.5,895.2 1431.5,888.7 1439.5,888.7 1447.5,892.4" fill="none" stroke="#1E90FF" stroke-width="1" shape-rendering="crispEdges"/><path d="M1215.7 805.6L1436.9 895.1" stroke="#FF0000" stroke-width="3" fill="none"/><path d="M1446.2 898.8L1438.8 890.4L1435.1 899.7Z" fill="#FF0000"/><rect x="1658" y="753" width="2" height="1" fill="#000"/><text x="1661" y="762.3" font-size="10" fill="#000" textLength="15.3" lengthAdjust="spacingAndGlyphs" xml:space="preserve" >100</text><rect x="1658" y="787" width="2" height="1" fill="#000"/><text x="1661" y="791.3" font-size="10" fill="#000" textLength="10.2" lengthAdjust="spacingAndGlyphs" xml:space="preserve" >80</text><rect x="1658" y="838" width="2" height="1" fill="#000"/><text x="1661" y="842.3" font-size="10" fill="#000" textLength="10.2" lengthAdjust="spacingAndGlyphs" xml:space="preserve" >50</text><rect x="1658" y="899" width="2" height="1" fill="#000"/><text x="1661" y="903.5" font-size="10" fill="#000" textLength="10.2" lengthAdjust="spacingAndGlyphs" xml:space="preserve" >15</text><rect x="1658" y="925" width="2" height="1" fill="#000"/><text x="1661" y="922" font-size="10" fill="#000" textLength="5.1" lengthAdjust="spacingAndGlyphs" xml:space="preserve" >0</text><rect x="-1" y="926" width="1" height="4" fill="#000"/><text x="-2" y="938" font-size="10" fill="#000" textLength="52.6" lengthAdjust="spacingAndGlyphs" xml:space="preserve" >27 May 2021</text><rect x="63" y="926" width="1" height="4" fill="#000"/><text x="62" y="938" font-size="10" fill="#000" textLength="55.1" lengthAdjust="spacingAndGlyphs" xml:space="preserve" >31 May 00:00</text><rect x="127" y="926" width="1" height="4" fill="#000"/><text x="126" y="938" font-size="10" fill="#000" textLength="47.6" lengthAdjust="spacingAndGlyphs" xml:space="preserve" >1 Jun 08:00</text><rect x="191" y="926" width="1" height="4" fill="#000"/><text x="190" y="938" font-size="10" fill="#000" textLength="47.6" lengthAdjust="spacingAndGlyphs" xml:space="preserve" >2 Jun 16:00</text><rect x="255" y="926" width="1" height="4" fill="#000"/><text x="254" y="938" font-size="10" fill="#000" textLength="47.6" lengthAdjust="spacingAndGlyphs" xml:space="preserve" >4 Jun 00:00</text><rect x="319" y="926" width="1" height="4" fill="#000"/><text x="318" y="938" font-size="10" fill="#000" textLength="47.6" lengthAdjust="spacingAndGlyphs" xml:space="preserve" >7 Jun 08:00</text><rect x="383" y="926" width="1" height="4" fill="#000"/><text x="382" y="938" font-size="10" fill="#000" textLength="47.6" lengthAdjust="spacingAndGlyphs" xml:space="preserve" >8 Jun 16:00</text><rect x="447" y="926" width="1" height="4" fill="#000"/><text x="446" y="938" font-size="10" fill="#000" textLength="52.6" lengthAdjust="spacingAndGlyphs" xml:space="preserve" >10 Jun 00:00</text><rect x="511" y="926" width="1" height="4" fill="#000"/><text x="510" y="938" font-size="10" fill="#000" textLength="51.9" lengthAdjust="spacingAndGlyphs" xml:space="preserve" >11 Jun 08:00</text><rect x="575" y="926" width="1" height="4" fill="#000"/><text x="574" y="938" font-size="10" fill="#000" textLength="52.6" lengthAdjust="spacingAndGlyphs" xml:space="preserve" >14 Jun 16:00</text><rect x="639" y="926" width="1" height="4" fill="#000"/><text x="638" y="938" font-size="10" fill="#000" textLength="52.6" lengthAdjust="spacingAndGlyphs" xml:space="preserve" >16 Jun 00:00</text><rect x="703" y="926" width="1" height="4" fill="#000"/><text x="702" y="938" font-size="10" fill="#000" textLength="52.6" lengthAdjust="spacingAndGlyphs" xml:space="preserve" >17 Jun 08:00</text><rect x="767" y="926" width="1" height="4" fill="#000"/><text x="766" y="938" font-size="10" fill="#000" textLength="52.6" lengthAdjust="spacingAndGlyphs" xml:space="preserve" >18 Jun 16:00</text><rect x="831" y="926" width="1" height="4" fill="#000"/><text x="830" y="938" font-size="10" fill="#000" textLength="52.6" lengthAdjust="spacingAndGlyphs" xml:space="preserve" >22 Jun 00:00</text><rect x="895" y="926" width="1" height="4" fill="#000"/><text x="894" y="938" font-size="10" fill="#000" textLength="52.6" lengthAdjust="spacingAndGlyphs" xml:space="preserve" >23 Jun 08:00</text><rect x="959" y="926" width="1" height="4" fill="#000"/><text x="958" y="938" font-size="10" fill="#000" textLength="52.6" lengthAdjust="spacingAndGlyphs" xml:space="preserve" >24 Jun 16:00</text><rect x="1023" y="926" width="1" height="4" fill="#000"/><text x="1022" y="938" font-size="10" fill="#000" textLength="52.6" lengthAdjust="spacingAndGlyphs" xml:space="preserve" >28 Jun 00:00</text><rect x="1087" y="926" width="1" height="4" fill="#000"/><text x="1086" y="938" font-size="10" fill="#000" textLength="52.6" lengthAdjust="spacingAndGlyphs" xml:space="preserve" >29 Jun 08:00</text><rect x="1151" y="926" width="1" height="4" fill="#000"/><text x="1150" y="938" font-size="10" fill="#000" textLength="52.6" lengthAdjust="spacingAndGlyphs" xml:space="preserve" >30 Jun 16:00</text><rect x="1215" y="926" width="1" height="4" fill="#000"/><text x="1214" y="938" font-size="10" fill="#000" textLength="44.5" lengthAdjust="spacingAndGlyphs" xml:space="preserve" >2 Jul 00:00</text><rect x="1279" y="926" width="1" height="4" fill="#000"/><text x="1278" y="938" font-size="10" fill="#000" textLength="44.5" lengthAdjust="spacingAndGlyphs" xml:space="preserve" >5 Jul 08:00</text><rect x="1343" y="926" width="1" height="4" fill="#000"/><text x="1342" y="938" font-size="10" fill="#000" textLength="44.5" lengthAdjust="spacingAndGlyphs" xml:space="preserve" >6 Jul 16:00</text><rect x="1407" y="926" width="1" height="4" fill="#000"/><text x="1406" y="938" font-size="10" fill="#000" textLength="44.5" lengthAdjust="spacingAndGlyphs" xml:space="preserve" >8 Jul 00:00</text></svg></body></html>
